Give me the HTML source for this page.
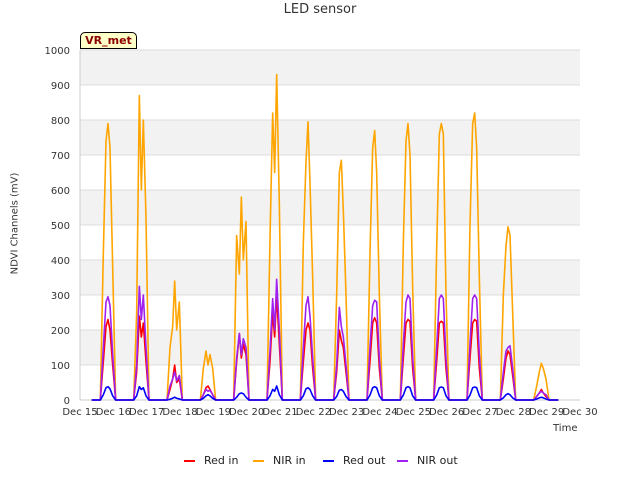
<!DOCTYPE html>
<html><head><meta charset="utf-8"><style>
body{margin:0;background:#fff;font-family:"DejaVu Sans","Liberation Sans",sans-serif;}
svg text{font-family:"DejaVu Sans","Liberation Sans",sans-serif;}
</style></head><body>
<svg id="chart" width="640" height="480" xmlns="http://www.w3.org/2000/svg"></svg>
<script>
const xTickLabels=["Dec 15","Dec 16","Dec 17","Dec 18","Dec 19","Dec 20","Dec 21","Dec 22","Dec 23","Dec 24","Dec 25","Dec 26","Dec 27","Dec 28","Dec 29","Dec 30"];
const yTicks=[0,100,200,300,400,500,600,700,800,900,1000];
const sampleOffsets=[-0.23,-0.14,-0.06,0,0.06,0.14,0.23];
const nirIn=[[0,420,740,790,720,380,0],[0,250,870,600,800,520,0],[0,150,210,340,200,280,0],[0,90,140,100,130,90,0],[0,470,360,580,400,510,0],[0,460,820,650,930,560,0],[0,450,680,795,620,350,0],[0,300,650,685,540,300,0],[0,420,720,770,650,300,0],[0,450,740,790,700,320,0],[0,430,760,790,760,300,0],[0,500,790,820,720,350,0],[0,300,440,495,470,250,0],[0,40,80,105,90,60,0]];
const nirOut=[[0,150,280,295,270,130,0],[0,100,325,230,300,150,0],[0,40,60,80,55,70,0],[0,15,30,25,28,15,0],[0,120,190,130,175,150,0],[0,140,290,200,345,200,0],[0,150,270,295,240,120,0],[0,100,265,210,180,100,0],[0,150,270,285,280,120,0],[0,160,280,300,290,120,0],[0,150,290,300,290,120,0],[0,160,290,300,290,130,0],[0,80,140,150,155,90,0],[0,10,20,25,20,15,0]];
const redIn=[[0,110,210,230,200,100,0],[0,80,240,180,220,110,0],[0,30,60,100,50,60,0],[0,15,35,40,30,15,0],[0,110,190,120,160,130,0],[0,110,250,180,300,160,0],[0,110,200,220,200,90,0],[0,80,200,170,150,80,0],[0,110,220,235,220,90,0],[0,120,220,230,225,90,0],[0,110,220,225,220,90,0],[0,120,220,230,225,90,0],[0,60,120,140,130,70,0],[0,10,20,30,20,10,0]];
const redOut=[[0,15,35,38,32,12,0],[0,12,38,30,35,12,0],[0,2,5,8,5,3,0],[0,5,12,15,12,5,0],[0,8,18,20,18,8,0],[0,12,30,25,40,15,0],[0,12,32,35,30,12,0],[0,10,28,30,25,10,0],[0,14,35,38,35,12,0],[0,14,35,38,35,12,0],[0,14,35,37,35,12,0],[0,14,35,37,35,12,0],[0,6,15,18,15,6,0],[0,3,6,8,6,3,0]];
const ns="http://www.w3.org/2000/svg";
const svg=document.getElementById('chart');
const L=80,R=580,T=50,B=400;
const x=d=>L+(R-L)*d/15;
const y=v=>B-(B-T)*v/1000;
function mk(tag,attrs,parent){const e=document.createElementNS(ns,tag);for(const k in attrs)e.setAttribute(k,attrs[k]);(parent||svg).appendChild(e);return e;}
for(let i=0;i<10;i++){
 const b=mk('rect',{x:L,y:y(yTicks[i+1]),width:R-L,height:y(yTicks[i])-y(yTicks[i+1]),fill:(i%2==1)?'#f2f2f2':'#ffffff'});
 
 
}
yTicks.forEach(v=>{
 const g=mk('line',{x1:L,x2:R,y1:y(v),y2:y(v),stroke:'#dcdcdc','stroke-width':1});
 
 
 const t=mk('text',{x:L-10,y:y(v)+4,'text-anchor':'end','font-size':10,fill:'#333'});
 t.textContent=v;
 
 
});
xTickLabels.forEach((s,i)=>{
 const t=mk('text',{x:x(i),y:415,'text-anchor':'middle','font-size':10,fill:'#333'});
 t.textContent=s;
 
 
});
mk('line',{x1:L,x2:L,y1:T,y2:B,stroke:'#ccc'});
mk('line',{x1:L,x2:R,y1:B,y2:B,stroke:'#ccc'});
function series(data,color,name){
 let pts=[[x(0.35),y(0)]];
 data.forEach((day,d)=>{day.forEach((v,j)=>{pts.push([x(d+0.84+sampleOffsets[j]),y(v)]);});});
 pts.push([x(14.35),y(0)]);
 const p=mk('polyline',{points:pts.map(p=>p.join(',')).join(' '),fill:'none',stroke:color,'stroke-width':1.6,'stroke-linejoin':'round'});
 
 
}
series(nirIn,'#ffa500','nir-in-line');
series(redIn,'#ff0000','red-in-line');
series(nirOut,'#a020f0','nir-out-line');
series(redOut,'#0000ff','red-out-line');
</script>
<div style="position:absolute;left:0;top:2px;width:640px;text-align:center;font-size:13px;color:#333">LED sensor</div>
<div style="position:absolute;left:-45px;top:218px;width:120px;text-align:center;font-size:10px;color:#333;transform:rotate(-90deg)">NDVI Channels (mV)</div>
<div style="position:absolute;left:553px;top:423px;font-size:10px;color:#333">Time</div>
<div style="position:absolute;left:80px;top:32px;width:57px;height:17px;background:#ffffc8;border:1px solid #000;border-radius:5px 5px 0 0;box-sizing:border-box;font-size:11px;font-weight:bold;color:#8b0000;text-align:center;line-height:16px">VR_met</div>
<div style="position:absolute;left:0;top:454px;width:640px;font-size:11px;color:#222">
 <span style="position:absolute;left:184px;"><span style="display:inline-block;width:11px;height:2px;background:#f00;vertical-align:middle;margin-right:9px"></span>Red in</span>
 <span style="position:absolute;left:253px;"><span style="display:inline-block;width:11px;height:2px;background:#ffa500;vertical-align:middle;margin-right:9px"></span>NIR in</span>
 <span style="position:absolute;left:323px;"><span style="display:inline-block;width:11px;height:2px;background:#00f;vertical-align:middle;margin-right:9px"></span>Red out</span>
 <span style="position:absolute;left:397px;"><span style="display:inline-block;width:11px;height:2px;background:#a020f0;vertical-align:middle;margin-right:9px"></span>NIR out</span>
</div>
</body></html>
